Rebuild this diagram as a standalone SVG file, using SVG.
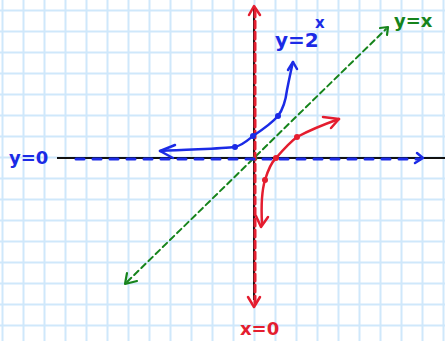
<svg xmlns="http://www.w3.org/2000/svg" width="445" height="341" viewBox="0 0 445 341">
<style>
.grid{stroke:#cfe8fb;stroke-width:2;fill:none}
.axis{stroke:#111;stroke-width:2;fill:none}
.red{stroke:#e41d2f;fill:none;stroke-linecap:round;stroke-linejoin:round}
.blue{stroke:#1b2be6;fill:none;stroke-linecap:round;stroke-linejoin:round}
.green{stroke:#16841c;fill:none;stroke-linecap:round;stroke-linejoin:round}
.lbl{font-family:"DejaVu Sans","Liberation Sans",sans-serif;font-size:18px;font-weight:bold}
</style>
<rect width="445" height="341" fill="#fff"/>
<g id="grid" class="grid">
<path d="M2.5,0V341M23.5,0V341M44.5,0V341M65.5,0V341M86.5,0V341M107.5,0V341M128.5,0V341M149.5,0V341M170.5,0V341M191.5,0V341M212.5,0V341M233.5,0V341M254.5,0V341M275.5,0V341M296.5,0V341M317.5,0V341M338.5,0V341M359.5,0V341M380.5,0V341M401.5,0V341M422.5,0V341M443.5,0V341"/>
<path d="M0,10.5H445M0,31.5H445M0,52.5H445M0,73.5H445M0,94.5H445M0,115.5H445M0,136.5H445M0,157.5H445M0,178.5H445M0,199.5H445M0,220.5H445M0,241.5H445M0,262.5H445M0,283.5H445M0,304.5H445M0,325.5H445"/>
</g>
<g id="axes" class="axis">
<path d="M57,158H445"/>
<path d="M254,8V300"/>
</g>
<g id="line-y-eq-x" class="green">
<path d="M127,282L386,29" stroke-width="2" stroke-dasharray="6 4"/>
<path d="M127,273L125,284L137,281M380,28L388,27L387,35" stroke-width="2.2"/>
<circle cx="255" cy="158" r="2.5" fill="#16841c" stroke="none"/>
</g>
<g id="asymptote-x0" class="red">
<path d="M255,10V304" stroke-width="3" stroke-dasharray="7 4"/>
<path d="M249,15L254,6L260,15M248,297L254,307L260,297" stroke-width="2.5"/>
</g>
<g id="asymptote-y0" class="blue">
<path d="M76,159H420" stroke-width="3" stroke-dasharray="8 9"/>
<path d="M417,153L423,158L415,163" stroke-width="2.5"/>
</g>
<g id="curve-exp" class="blue">
<path d="M160,151C190,149 220,149 235,147C243,145 248,140 253,136C262,130 272,123 278,116C284,108 286,98 287,90C289,80 291,70 293,62" stroke-width="2.5"/>
<path d="M288,70L293,62L297,69M175,145L160,151L173,158" stroke-width="2.5"/>
<circle cx="235" cy="147" r="3" fill="#1b2be6" stroke="none"/>
<circle cx="253" cy="136" r="3" fill="#1b2be6" stroke="none"/>
<circle cx="278" cy="116" r="3" fill="#1b2be6" stroke="none"/>
</g>
<g id="curve-log" class="red">
<path d="M262,224C261,205 262,190 265,180C268,170 271,163 276,158C283,150 290,142 297,137C310,130 325,124 339,119" stroke-width="2.5"/>
<path d="M323,117L339,119L331,128M256,216L261,227L268,217" stroke-width="2.5"/>
<circle cx="265" cy="180" r="3" fill="#e41d2f" stroke="none"/>
<circle cx="276" cy="158" r="3" fill="#e41d2f" stroke="none"/>
<circle cx="297" cy="137" r="3" fill="#e41d2f" stroke="none"/>
</g>
<g id="labels" class="lbl">
<text x="275" y="47" fill="#1b2be6" font-size="20">y=2</text>
<text x="315" y="28" fill="#1b2be6" font-size="15">x</text>
<text x="394" y="27" fill="#16841c">y=x</text>
<text x="9" y="164" fill="#1b2be6">y=0</text>
<text x="240" y="335" fill="#e41d2f">x=0</text>
</g>
</svg>
